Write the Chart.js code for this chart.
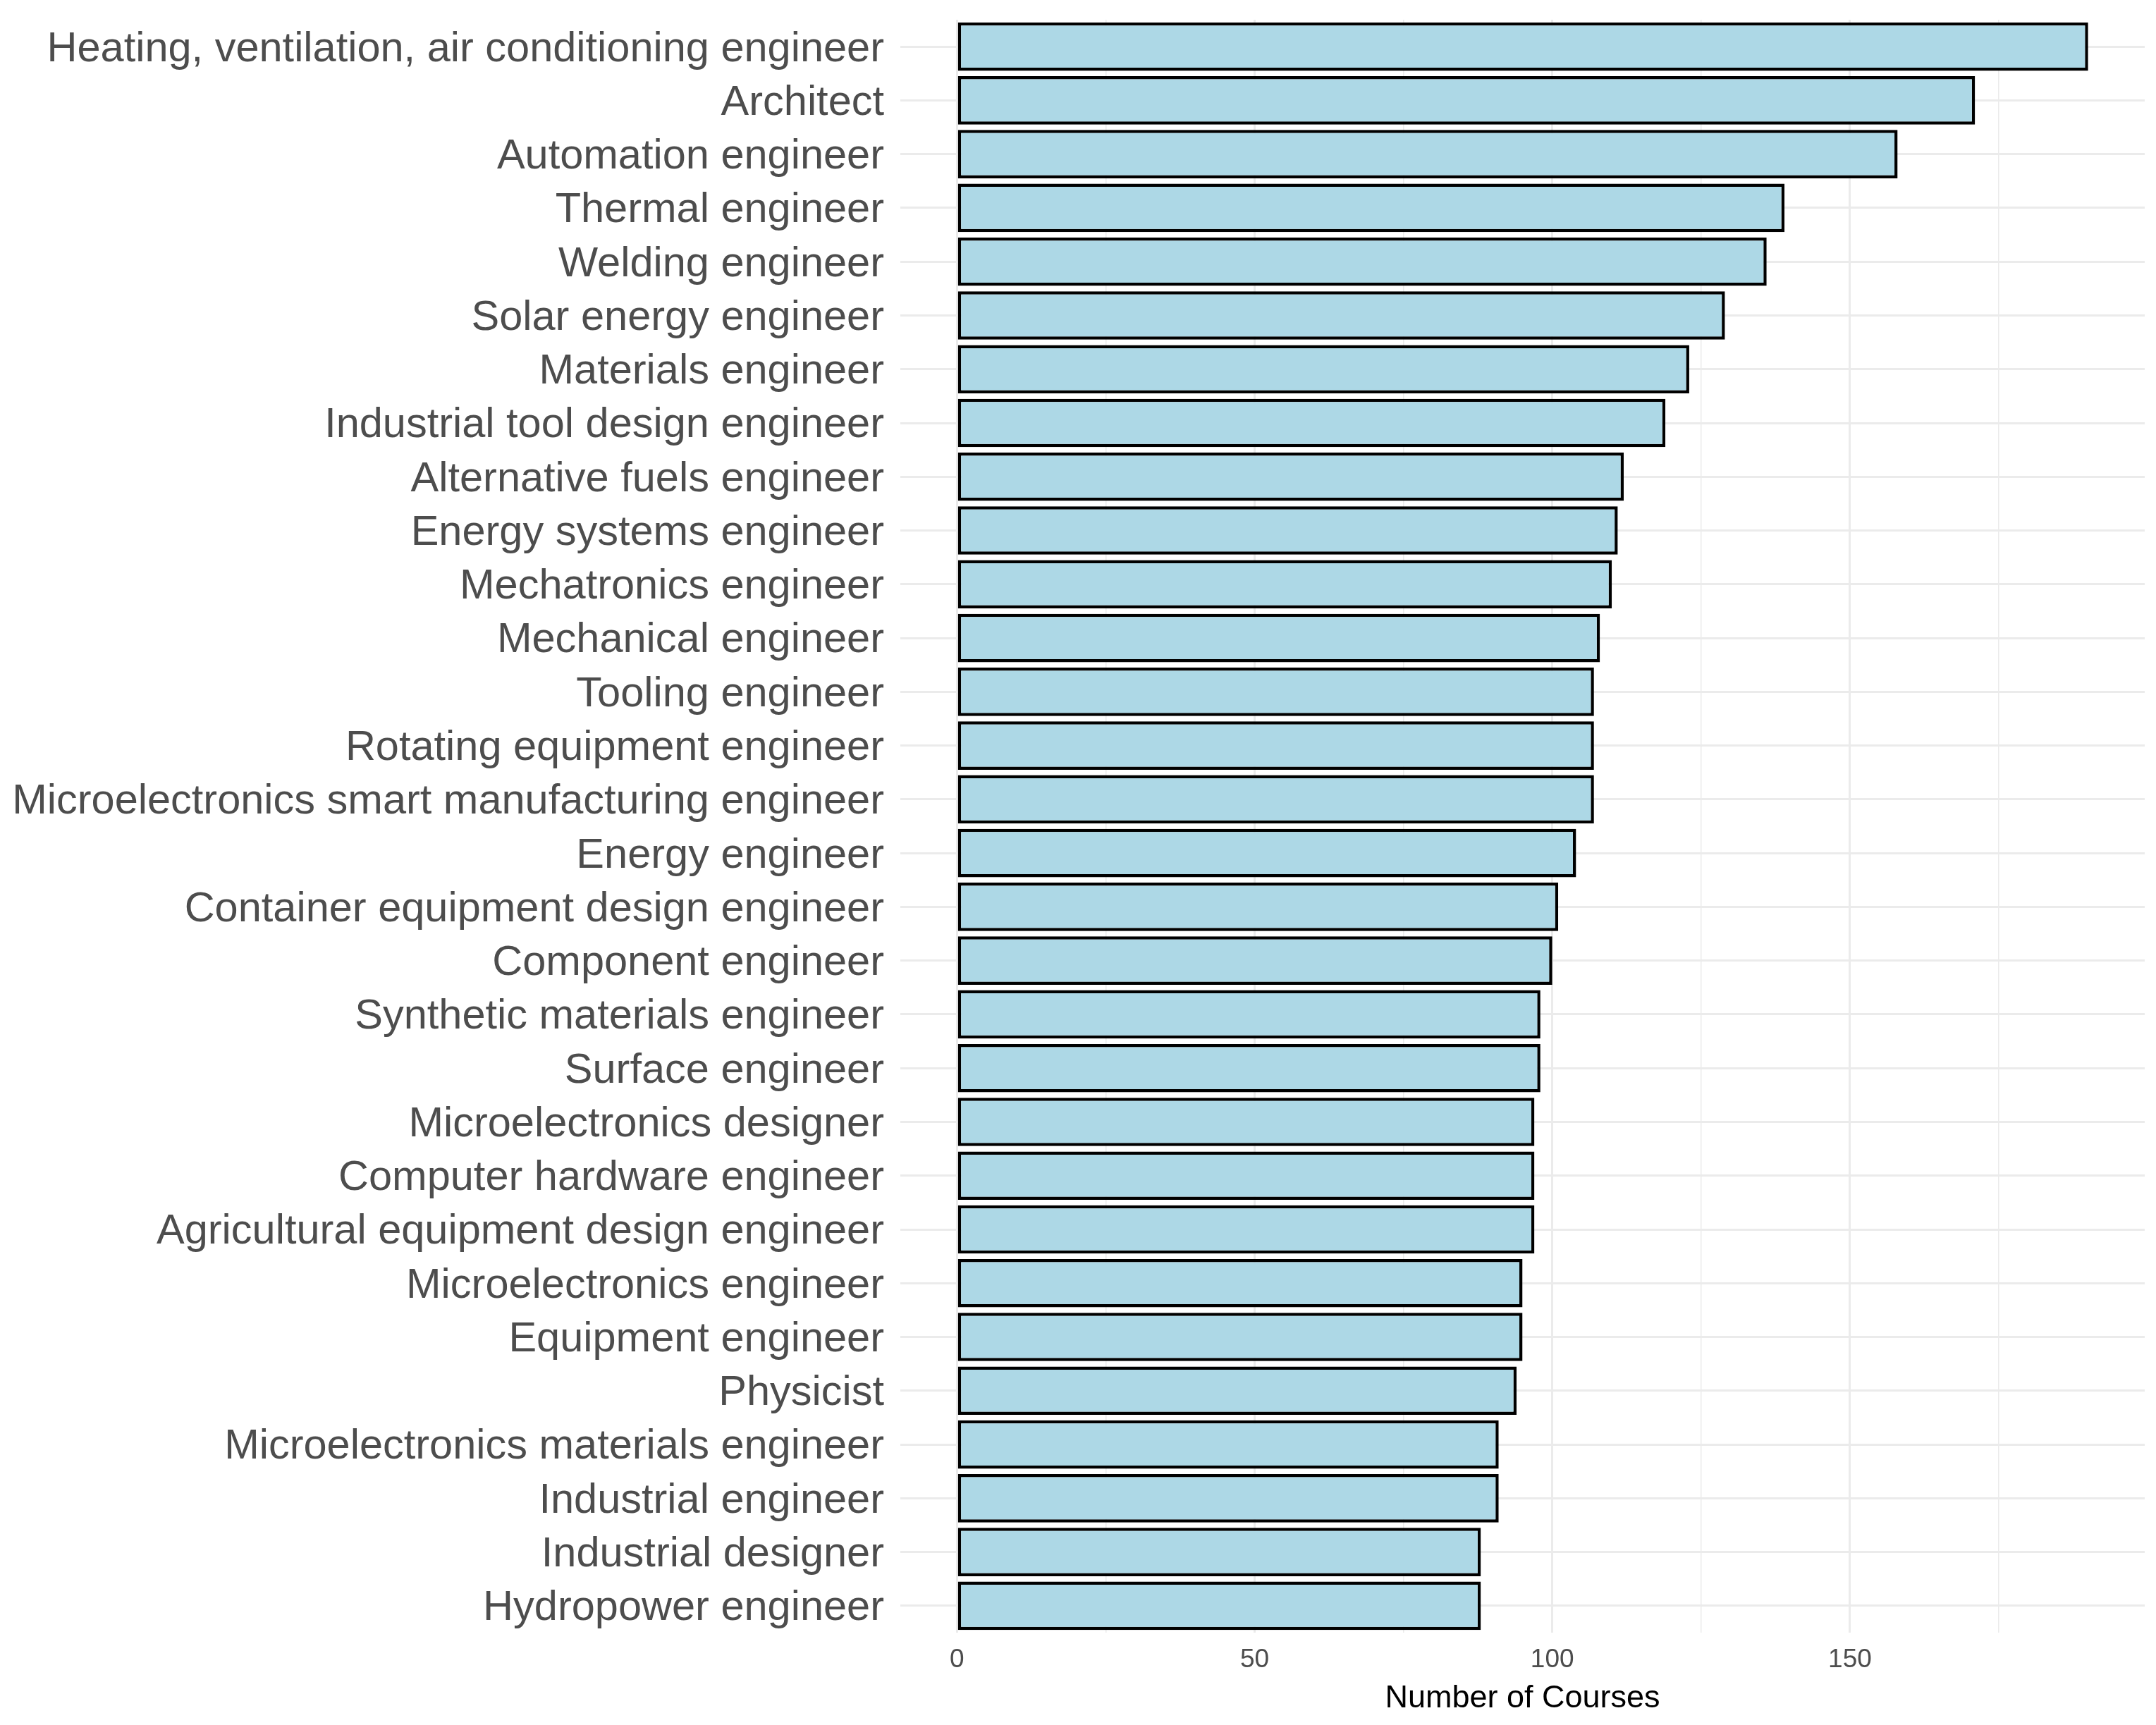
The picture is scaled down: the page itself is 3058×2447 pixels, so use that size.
<!DOCTYPE html>
<html>
<head>
<meta charset="utf-8">
<title>Number of Courses by Occupation</title>
<script src="https://cdn.jsdelivr.net/npm/chart.js@4/dist/chart.umd.min.js"></script>
<style>
  html, body { margin: 0; padding: 0; background: #fff; }
  canvas { display: block; width: 3058px; height: 2447px; }
</style>
</head>
<body>
<canvas id="coursesChart" width="3058" height="2447"></canvas>
<script>
// occupations, top to bottom
const occupations = [
  'Heating, ventilation, air conditioning engineer',
  'Architect',
  'Automation engineer',
  'Thermal engineer',
  'Welding engineer',
  'Solar energy engineer',
  'Materials engineer',
  'Industrial tool design engineer',
  'Alternative fuels engineer',
  'Energy systems engineer',
  'Mechatronics engineer',
  'Mechanical engineer',
  'Tooling engineer',
  'Rotating equipment engineer',
  'Microelectronics smart manufacturing engineer',
  'Energy engineer',
  'Container equipment design engineer',
  'Component engineer',
  'Synthetic materials engineer',
  'Surface engineer',
  'Microelectronics designer',
  'Computer hardware engineer',
  'Agricultural equipment design engineer',
  'Microelectronics engineer',
  'Equipment engineer',
  'Physicist',
  'Microelectronics materials engineer',
  'Industrial engineer',
  'Industrial designer',
  'Hydropower engineer'
];

const courseCounts = [
  190, 171, 158, 139, 136, 129, 123, 119, 112, 111,
  110, 108, 107, 107, 107, 104, 101, 100, 98, 98,
  97, 97, 97, 95, 95, 94, 91, 91, 88, 88
];

// x grid lines (major + minor) and the labelled ones
const xGridValues = [0, 25, 50, 75, 100, 125, 150, 175];
const xTickLabels = [0, 50, 100, 150];

Chart.defaults.font.family = "'Liberation Sans', Arial, sans-serif";

const ctx = document.getElementById('coursesChart').getContext('2d');
const coursesChart = new Chart(ctx, {
  type: 'bar',
  data: {
    labels: occupations,
    datasets: [{
      label: 'Number of Courses',
      data: courseCounts,
      backgroundColor: '#ADD8E6',
      borderColor: '#000000',
      borderWidth: 4.5,
      borderSkipped: false,
      categoryPercentage: 0.9,
      barPercentage: 1
    }]
  },
  options: {
    indexAxis: 'y',
    responsive: false,
    animation: false,
    devicePixelRatio: 1,
    layout: { padding: { top: 28, right: 16, bottom: 0, left: 0 } },
    plugins: {
      legend: { display: false },
      tooltip: { enabled: false }
    },
    scales: {
      x: {
        type: 'linear',
        min: -9.5,
        max: 199.5,
        border: { display: false },
        afterBuildTicks: scale => {
          scale.ticks = xGridValues.map(v => ({ value: v }));
        },
        grid: {
          color: '#ebebeb',
          lineWidth: c => (c.tick && c.tick.value % 50 === 0) ? 3 : 1.5,
          drawTicks: false
        },
        ticks: {
          autoSkip: false,
          maxRotation: 0,
          padding: 24,
          color: '#4d4d4d',
          font: { size: 37, lineHeight: 0.8 },
          callback: v => xTickLabels.includes(v) ? String(v) : ''
        },
        title: {
          display: true,
          text: 'Number of Courses',
          color: '#000000',
          font: { size: 45, lineHeight: 1 },
          padding: { top: 0, bottom: 15 }
        },
        afterFit: scale => {
          scale.height = 131;
          scale.paddingLeft = 0;
          scale.paddingRight = 0;
        }
      },
      y: {
        border: { display: false },
        grid: {
          color: '#ebebeb',
          lineWidth: 3,
          drawTicks: false,
          offset: false
        },
        ticks: {
          autoSkip: false,
          padding: 23,
          labelOffset: 4,
          color: '#4d4d4d',
          font: { size: 59.5, lineHeight: 0.8 }
        },
        afterFit: scale => {
          scale.width = 1277;
          scale.paddingTop = 0;
          scale.paddingBottom = 0;
        }
      }
    }
  }
});
</script>
</body>
</html>
